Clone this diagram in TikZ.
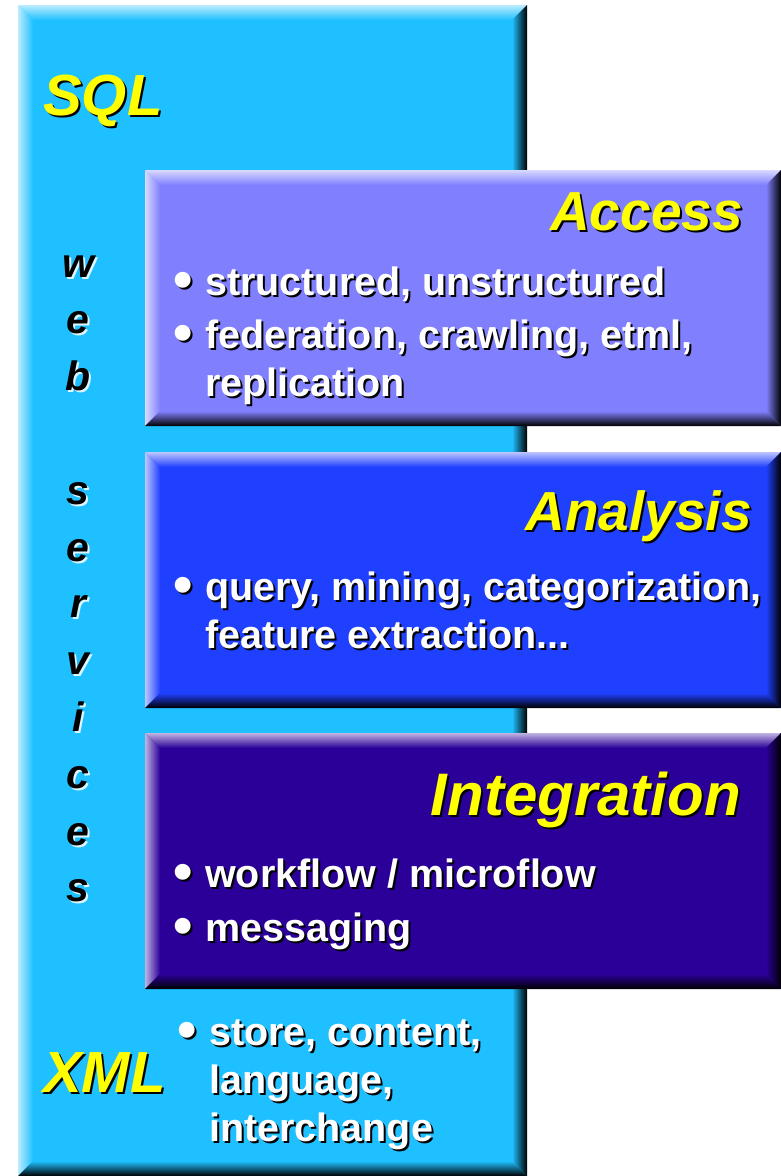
\documentclass[tikz,border=0pt]{standalone}
\usepackage{fontspec}
\setmainfont{Liberation Sans}
\usetikzlibrary{calc}

\definecolor{webc}{RGB}{31,192,255}
\definecolor{accessc}{RGB}{128,128,255}
\definecolor{analysisc}{RGB}{32,64,255}
\definecolor{integc}{RGB}{42,0,152}
\definecolor{titlec}{RGB}{255,255,0}

% text with a drop shadow
\newcommand\shtxt[2][black]{\leavevmode\rlap{\kern2pt\raisebox{-2pt}{\textcolor{#1}{#2}}}#2}
\newcommand\bul{\makebox[29pt][l]{\kern-3pt\shtxt{\raisebox{-3pt}{\scalebox{1.4}{\char"2022}}}}}

% bevelled edges of a panel node
\newcommand\bw{15}
\newcommand\bevel[2]{%
  \shade[left color=white!70!#2, right color=#2]
    (#1.north west) -- ($(#1.north west)+(\bw,\bw)$) -- ($(#1.south west)+(\bw,-\bw)$) -- (#1.south west) -- cycle;
  \shade[top color=white!70!#2, bottom color=#2]
    (#1.north west) -- (#1.north east) -- ($(#1.north east)+(-\bw,\bw)$) -- ($(#1.north west)+(\bw,\bw)$) -- cycle;
  \shade[top color=#2, bottom color=black]
    (#1.south west) -- ($(#1.south west)+(\bw,-\bw)$) -- ($(#1.south east)+(-\bw,-\bw)$) -- (#1.south east) -- cycle;
  \shade[left color=#2, right color=black]
    (#1.north east) -- (#1.south east) -- ($(#1.south east)+(-\bw,-\bw)$) -- ($(#1.north east)+(-\bw,\bw)$) -- cycle;
}

\tikzset{
  panel/.style={anchor=north west, inner sep=0, outer sep=0, draw=none},
  title/.style={font=\fontsize{#1}{#1}\selectfont\bfseries\itshape, text=titlec, inner sep=0},
  title/.default=58,
  body/.style={font=\fontsize{39.5}{48}\selectfont\bfseries, text=white, align=left, inner sep=0, anchor=base west},
  webletter/.style={font=\fontsize{41}{41}\selectfont\bfseries\itshape, text=black, inner sep=0, anchor=base}
}

\begin{document}
\begin{tikzpicture}[x=1pt, y=-1pt]
  \useasboundingbox (0,0) rectangle (781,1176);

  % web services column
  \node[panel, fill=webc, minimum width=509, minimum height=1171] (web) at (18,5) {};
  \bevel{web}{webc}
  \foreach \l/\i in {w/0,e/1,b/2,s/4,e/5,r/6,v/7,i/8,c/9,e/10,s/11}
    \node[webletter] (web\i) at (78,277+56.8*\i) {\shtxt[white!85!webc]{\l}};
  \node[title] (sql) at (43,115) [anchor=base west] {\shtxt{SQL}};
  \node[title] (xml) at (43,1092) [anchor=base west] {\shtxt{XML}};
  % multi-line nodes: base is the last line
  \node[body] (xmlb) at (180,1141) {\bul\shtxt{store, content,}\\\hspace*{29pt}\shtxt{language,}\\\hspace*{29pt}\shtxt{interchange}};

  % access
  \node[panel, fill=accessc, minimum width=636, minimum height=256] (access) at (145,170) {};
  \bevel{access}{accessc}
  \node[title=55] (acct) at (743,230) [anchor=base east] {\shtxt{Access}};
  \node[body] (acc1) at (176,295) {\bul\shtxt{structured, unstructured}};
  \node[body] (acc2) at (176,396) {\bul\shtxt{federation, crawling, etml,}\\\hspace*{29pt}\shtxt{replication}};

  % analysis
  \node[panel, fill=analysisc, minimum width=636, minimum height=256] (analysis) at (145,452) {};
  \bevel{analysis}{analysisc}
  \node[title=55] (anat) at (752,530) [anchor=base east] {\shtxt{Analysis}};
  \node[body] (ana1) at (176,648) {\bul\shtxt{query, mining, categorization,}\\\hspace*{29pt}\shtxt{feature extraction...}};

  % integration
  \node[panel, fill=integc, minimum width=636, minimum height=256] (integ) at (145,733) {};
  \bevel{integ}{integc}
  \node[title=60] (intt) at (741,815) [anchor=base east] {\shtxt{Integration}};
  \node[body] (int1) at (176,887) {\bul\shtxt{workflow / microflow}};
  \node[body] (int2) at (176,941) {\bul\shtxt{messaging}};

\end{tikzpicture}
\end{document}
